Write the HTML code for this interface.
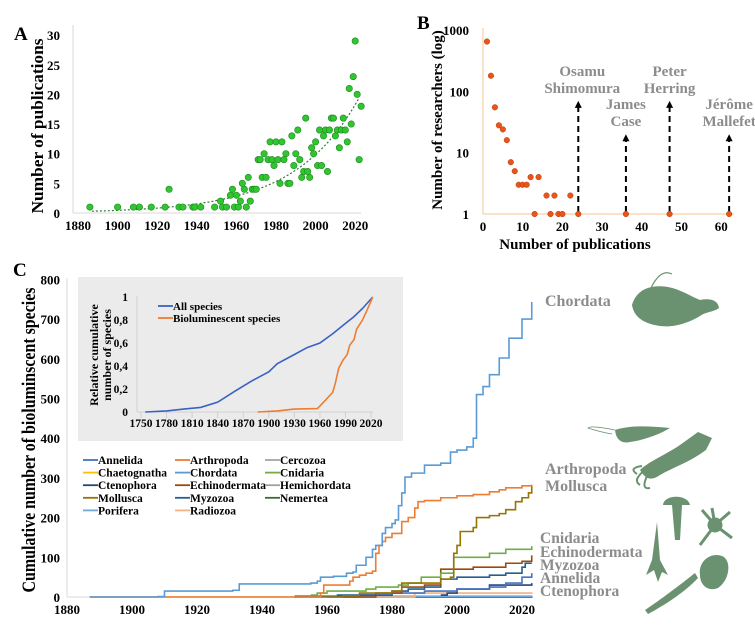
<!DOCTYPE html>
<html><head><meta charset="utf-8"><style>
html,body{margin:0;padding:0;background:#fff;}
svg{display:block;font-family:"Liberation Serif",serif;font-weight:bold;}
</style></head><body>
<svg id="fig" width="755" height="642" viewBox="0 0 755 642">
<g id="A"></g>
<g id="B"></g>
<g id="C"></g>
<g id="sil" fill="#6b9270">
 <path d="M632,305 C636,290 650,284 668,287 C680,289 690,296 700,300 C710,298 718,300 719,308 C714,312 705,312 700,316 C690,322 675,328 660,326 C645,324 634,318 632,305 Z"/>
 <path d="M650,290 Q660,268 672,274" fill="none" stroke="#6b9270" stroke-width="1.2"/>
 <path d="M615,430 C630,425 650,426 670,428 C660,434 645,440 630,442 C622,444 616,440 615,430 Z"/>
 <path d="M615,430 Q590,425 588,428 Q600,432 612,434" fill="none" stroke="#6b9270" stroke-width="0.8"/>
 <path d="M698,432 L712,438 L706,450 C690,462 672,468 660,475 C650,482 645,478 640,470 C648,462 665,455 680,445 Z"/>
 <path d="M645,470 Q632,480 640,485 M648,474 Q640,490 650,488 M642,466 Q628,468 637,474" fill="none" stroke="#6b9270" stroke-width="2"/>
 <path d="M663,505 C664,494 688,494 690,505 Z M672,505 L675,540 L680,540 L682,505 Z"/>
 <path d="M715,525 m-6,0 a6,6 0 1,0 12,0 a6,6 0 1,0 -12,0 M715,525 L702,510 M715,525 L730,512 M715,525 L732,538 M715,525 L700,545 M715,525 L712,508" stroke="#6b9270" stroke-width="3" fill="#6b9270"/>
 <path d="M657,522 L660,560 L668,575 L662,572 L658,582 L654,570 L646,575 L652,560 Z"/>
 <path d="M700,575 C698,560 712,552 722,556 C732,560 730,580 718,588 C708,592 700,585 700,575 Z"/>
 <path d="M645,610 C660,600 680,585 695,573 L698,578 C685,592 665,605 648,614 Z"/>
</g>
</svg>
<script>
const NS="http://www.w3.org/2000/svg";
function mk(p,tag,at,txt){const e=document.createElementNS(NS,tag);for(const k in at)e.setAttribute(k,at[k]);if(txt!==undefined)e.textContent=txt;p.appendChild(e);return e;}

/* ---------- Panel A data ---------- */
const aYears=[1886,1900,1908,1911,1917,1924,1926,1931,1933,1938,1939,1942,1949,1952,1953,1955,1957,1958,1959,1960,1961,1962,1963,1964,1965,1966,1967,1968,1969,1970,1971,1972,1973,1974,1975,1976,1977,1978,1979,1980,1981,1982,1983,1984,1985,1986,1987,1988,1989,1990,1991,1992,1993,1994,1995,1996,1997,1998,1999,2000,2001,2002,2003,2004,2005,2006,2007,2008,2009,2010,2011,2012,2013,2014,2015,2016,2017,2018,2019,2020,2021,2022,2023];
const aPubs=[1,1,1,1,1,1,4,1,1,1,1,1,1,2,1,1,3,4,1,3,1,2,5,4,1,6,2,4,4,4,9,9,6,10,6,9,12,9,8,12,9,5,12,9,10,5,5,13,8,10,14,9,6,7,16,7,6,11,10,12,8,14,8,13,14,7,14,16,16,13,14,11,14,16,14,12,21,15,23,29,20,9,18];
const aTicksX=[1880,1900,1920,1940,1960,1980,2000,2020];
const aTicksY=[0,5,10,15,20,25,30];
const aTrend={start:1887,end:2022,a:0.3,b:0.0309};

/* ---------- Panel B data ---------- */
const bPubs=[1,2,3,4,5,6,7,8,9,10,11,12,13,14,16,17,18,19,20,22,24,36,47,62];
const bResearchers=[650,180,55,28,24,16,7,5,3,3,3,4,1,4,2,1,2,1,1,2,1,1,1,1];
const bTicksX=[0,10,20,30,40,50,60];
const bTicksY=[1,10,100,1000];
const bArrowX=[24,36,47,62];
const bArrowTop=[70,20,70,20];
const bNames=[["Osamu","Shimomura"],["James","Case"],["Peter","Herring"],["Jérôme","Mallefet"]];

/* ---------- Panel C data ---------- */
const cTicksX=[1880,1900,1920,1940,1960,1980,2000,2020];
const cTicksY=[0,100,200,300,400,500,600,700,800];
const chordataYears=[1887,1908,1910,1925,1931,1933,1955,1957,1958,1962,1966,1968,1969,1972,1974,1975,1977,1978,1980,1981,1982,1983,1984,1986,1990,1995,1998,2000,2003,2005,2006,2008,2010,2013,2016,2020,2023];
const chordataVals=[0,1,15,15,17,33,35,40,50,52,60,63,80,100,120,130,160,175,185,194,230,262,302,312,332,337,365,370,378,400,510,530,560,602,652,700,743];
const arthYears=[1887,1957,1958,1959,1966,1967,1968,1970,1972,1974,1975,1976,1977,1978,1980,1983,1985,1987,1988,1990,1995,2000,2005,2010,2013,2015,2020,2023];
const arthVals=[0,0,10,30,30,40,50,55,60,65,110,130,140,150,160,190,200,224,240,243,250,255,258,265,270,275,280,283];
const mollYears=[1950,1965,1970,1980,1983,1995,1998,1999,2000,2001,2005,2006,2010,2013,2015,2018,2020,2022,2023];
const mollVals=[0,3,10,15,35,45,50,110,130,165,175,200,205,210,220,240,250,262,280];
const cnidYears=[1955,1957,1960,1972,1975,1982,1985,1989,1995,1999,2010,2015,2023];
const cnidVals=[5,10,15,20,25,30,35,50,60,100,110,120,128];
const echiYears=[1965,1975,1983,1990,1995,2005,2015,2020,2023];
const echiVals=[0,10,25,30,70,75,85,90,105];
const myzoYears=[1963,1980,1985,1990,1995,2000,2010,2015,2020,2021,2023];
const myzoVals=[5,15,20,25,45,50,55,60,75,85,85];
const anneYears=[1950,1970,1980,1990,2000,2010,2015,2020,2023];
const anneVals=[2,5,10,15,20,25,35,50,60];
const cteYears=[1995,1997,2000,2010,2023];
const cteVals=[5,10,20,30,35];
const radioYears=[1887,1987,2023];
const radioVals=[0,10,12];
const poriYears=[1950,2023];
const poriVals=[2,4];
const minorYears=[1960,2023];
const minorVals=[0,2];
const legendNames=["Annelida","Arthropoda","Cercozoa","Chaetognatha","Chordata","Cnidaria","Ctenophora","Echinodermata","Hemichordata","Mollusca","Myzozoa","Nemertea","Porifera","Radiozoa"];
const legendColors=["#4472c4","#ed7d31","#a5a5a5","#ffc000","#5b9bd5","#70ad47","#264478","#9e480e","#a0a0a0","#997300","#255e91","#43682b","#6fa8dc","#f4b183"];
const rightLabels=["Chordata","Arthropoda","Mollusca","Cnidaria","Echinodermata","Myzozoa","Annelida","Ctenophora"];

/* inset data */
const allYears=[1755,1780,1800,1820,1840,1860,1880,1900,1910,1930,1945,1960,1975,1990,2000,2010,2022];
const allVals=[0,0.01,0.025,0.04,0.085,0.18,0.27,0.35,0.42,0.5,0.56,0.6,0.68,0.77,0.83,0.9,1.0];
const bioYears=[1887,1910,1930,1957,1965,1975,1978,1982,1987,1992,1995,2000,2003,2010,2015,2022];
const bioVals=[0,0.01,0.025,0.03,0.09,0.17,0.25,0.38,0.45,0.5,0.58,0.63,0.72,0.8,0.88,1.0];
const insetTicksX=[1750,1780,1810,1840,1870,1900,1930,1960,1990,2020];
const insetTicksY=[0,0.2,0.4,0.6,0.8,1];

/* ================= Panel A ================= */
const A=document.getElementById('A');
const axA=v=>78+(v-1880)*1.98, ayA=v=>213-v*5.93;
let t=mk(A,'text',{x:14,y:40,'font-size':19,fill:'#000'},'A');

let l=mk(A,'line',{x1:73,y1:25,x2:73,y2:213,stroke:'#d9d9d9'});

l=mk(A,'line',{x1:73,y1:213,x2:361,y2:213,stroke:'#d9d9d9'});

aTicksY.forEach(v=>{const e=mk(A,'text',{x:60,y:ayA(v)+5,'font-size':13,'text-anchor':'end'},v);
});
aTicksX.forEach(v=>{const e=mk(A,'text',{x:axA(v),y:230,'font-size':13,'text-anchor':'middle'},v);
});
t=mk(A,'text',{x:0,y:0,'font-size':17,'text-anchor':'middle',textLength:175,lengthAdjust:'spacingAndGlyphs',transform:'translate(43,126) rotate(-90)'},'Number of publications');

let tp=[];for(let y=aTrend.start;y<=aTrend.end;y+=1)tp.push(axA(y).toFixed(1)+','+ayA(aTrend.a*Math.exp(aTrend.b*(y-aTrend.start))).toFixed(1));
l=mk(A,'polyline',{points:tp.join(' '),fill:'none',stroke:'#2e7d32','stroke-width':1.2,'stroke-dasharray':'2,2'});

aYears.forEach((y,i)=>{const c=mk(A,'circle',{cx:axA(y),cy:ayA(aPubs[i]),r:3.2,fill:'#2fc62f',stroke:'#1d8a1d','stroke-width':0.6});
});

/* ================= Panel B ================= */
const B=document.getElementById('B');
const axB=v=>483+v*3.97, ayB=v=>214-Math.log10(v)*61.3;
t=mk(B,'text',{x:417,y:29,'font-size':19},'B');

l=mk(B,'line',{x1:483,y1:28,x2:483,y2:214,stroke:'#f6cfa8','stroke-width':1.2});

l=mk(B,'line',{x1:483,y1:214,x2:734,y2:214,stroke:'#f6cfa8','stroke-width':1.2});

bTicksY.forEach(v=>{const e=mk(B,'text',{x:469,y:ayB(v)+5,'font-size':13,'text-anchor':'end'},v);
});
bTicksX.forEach(v=>{const e=mk(B,'text',{x:axB(v),y:231,'font-size':13,'text-anchor':'middle'},v);
});
t=mk(B,'text',{x:575,y:249,'font-size':15,'text-anchor':'middle'},'Number of publications');

t=mk(B,'text',{x:0,y:0,'font-size':15,'text-anchor':'middle',transform:'translate(442,120) rotate(-90)'},'Number of researchers (log)');

bArrowX.forEach((v,i)=>{const x=axB(v),top=ayB(bArrowTop[i]);
const a=mk(B,'line',{x1:x,y1:212,x2:x,y2:top+6,stroke:'#000','stroke-width':2,'stroke-dasharray':'6,4'});

const h=mk(B,'polygon',{points:`${x-3.5},${top+7} ${x+3.5},${top+7} ${x},${top}`,fill:'#000'});

const nm=bNames[i];const ty=top-(nm.length*17)-4;
nm.forEach((s,j)=>{const e=mk(B,'text',{x:x-(i==0?-4:0),y:ty+j*17+13,'font-size':15,'text-anchor':'middle',fill:'#8c8c8c'},s);
});});
bPubs.forEach((p,i)=>{const c=mk(B,'circle',{cx:axB(p),cy:ayB(bResearchers[i]),r:2.8,fill:'#e8541a',stroke:'#b53c0c','stroke-width':0.5});
});

/* ================= Panel C ================= */
const C=document.getElementById('C');
const axC=v=>67+(v-1880)*3.25, ayC=v=>597-v*0.397;
t=mk(C,'text',{x:13,y:276,'font-size':19},'C');

l=mk(C,'line',{x1:67,y1:278,x2:67,y2:597,stroke:'#d9d9d9'});

l=mk(C,'line',{x1:67,y1:597,x2:532,y2:597,stroke:'#d9d9d9'});

cTicksY.forEach(v=>{const e=mk(C,'text',{x:60,y:ayC(v)+5,'font-size':13,'text-anchor':'end'},v);
});
cTicksX.forEach(v=>{const e=mk(C,'text',{x:axC(v),y:614,'font-size':13,'text-anchor':'middle'},v);
});
t=mk(C,'text',{x:0,y:0,'font-size':19,'text-anchor':'middle',textLength:305,lengthAdjust:'spacingAndGlyphs',transform:'translate(35,440) rotate(-90)'},'Cumulative number of bioluminscent species');


function stepLine(g,ys,vs,col,name,fx,fy,w){let p=[];ys.forEach((y,i)=>{if(i>0)p.push(fx(y)+','+fy(vs[i-1]));p.push(fx(y)+','+fy(vs[i]));});
const e=mk(g,'polyline',{points:p.join(' '),fill:'none',stroke:col,'stroke-width':w||1.6});
}
stepLine(C,minorYears,minorVals,'#a5a5a5','cercozoa-line',axC,ayC);
stepLine(C,minorYears,minorVals,'#43682b','nemertea-line',axC,ayC);
stepLine(C,poriYears,poriVals,'#6fa8dc','porifera-line',axC,ayC);
stepLine(C,radioYears,radioVals,'#f4b183','radiozoa-line',axC,ayC);
stepLine(C,cteYears,cteVals,'#264478','ctenophora-line',axC,ayC);
stepLine(C,anneYears,anneVals,'#4472c4','annelida-line',axC,ayC);
stepLine(C,myzoYears,myzoVals,'#255e91','myzozoa-line',axC,ayC);
stepLine(C,echiYears,echiVals,'#9e480e','echinodermata-line',axC,ayC);
stepLine(C,cnidYears,cnidVals,'#70ad47','cnidaria-line',axC,ayC);
stepLine(C,mollYears,mollVals,'#997300','mollusca-line',axC,ayC);
stepLine(C,arthYears,arthVals,'#ed7d31','arthropoda-line',axC,ayC);
stepLine(C,chordataYears,chordataVals,'#5b9bd5','chordata-line',axC,ayC);

/* legend */
legendNames.forEach((n,i)=>{const col=i%3,row=Math.floor(i/3);const x=[83,175,265][col],y=460+row*12.6;
const ln=mk(C,'line',{x1:x,y1:y,x2:x+15,y2:y,stroke:legendColors[i],'stroke-width':1.8});

const e=mk(C,'text',{x:x+15,y:y+4,'font-size':11.5},n);
});

/* right labels */
const rlY=[306,474,491,543,557,570,583,596];
rightLabels.forEach((n,i)=>{const e=mk(C,'text',{x:i<3?545:540,y:rlY[i],'font-size':i<3?16:15.5,fill:'#8c8c8c'},n);
});

/* inset */
const I=mk(C,'g',{});

let r=mk(I,'rect',{x:78,y:277,width:325,height:164,fill:'#ebebeb'});

const axI=v=>141+(v-1750)*0.852, ayI=v=>412-v*115;
insetTicksX.forEach(v=>{const g=mk(I,'line',{x1:axI(v),y1:412,x2:axI(v),y2:418,stroke:'#d0d0d0'});

const e=mk(I,'text',{x:axI(v),y:427,'font-size':11.5,'text-anchor':'middle'},v);
});
l=mk(I,'line',{x1:137,y1:296,x2:137,y2:412,stroke:'#d0d0d0'});

l=mk(I,'line',{x1:137,y1:412,x2:373,y2:412,stroke:'#d0d0d0'});

insetTicksY.forEach(v=>{const e=mk(I,'text',{x:128,y:ayI(v)+4,'font-size':11.5,'text-anchor':'end'},String(v).replace('.',','));
});
t=mk(I,'text',{x:0,y:0,'font-size':12,'text-anchor':'middle',transform:'translate(98,355) rotate(-90)'},'Relative cumulative');

t=mk(I,'text',{x:0,y:0,'font-size':12,'text-anchor':'middle',transform:'translate(111,355) rotate(-90)'},'number of species');

function polyL(g,ys,vs,col,name){const p=ys.map((y,i)=>axI(y).toFixed(1)+','+ayI(vs[i]).toFixed(1));
const e=mk(g,'polyline',{points:p.join(' '),fill:'none',stroke:col,'stroke-width':1.6});
}
polyL(I,allYears,allVals,'#3a62c2','all-species-line');
polyL(I,bioYears,bioVals,'#ed7d31','bioluminescent-species-line');
[['All species','#3a62c2',306],['Bioluminescent species','#ed7d31',318]].forEach(d=>{
const ln=mk(I,'line',{x1:158,y1:d[2],x2:173,y2:d[2],stroke:d[1],'stroke-width':1.8});

const e=mk(I,'text',{x:173,y:d[2]+4,'font-size':11},d[0]);
});
</script>
</body></html>
